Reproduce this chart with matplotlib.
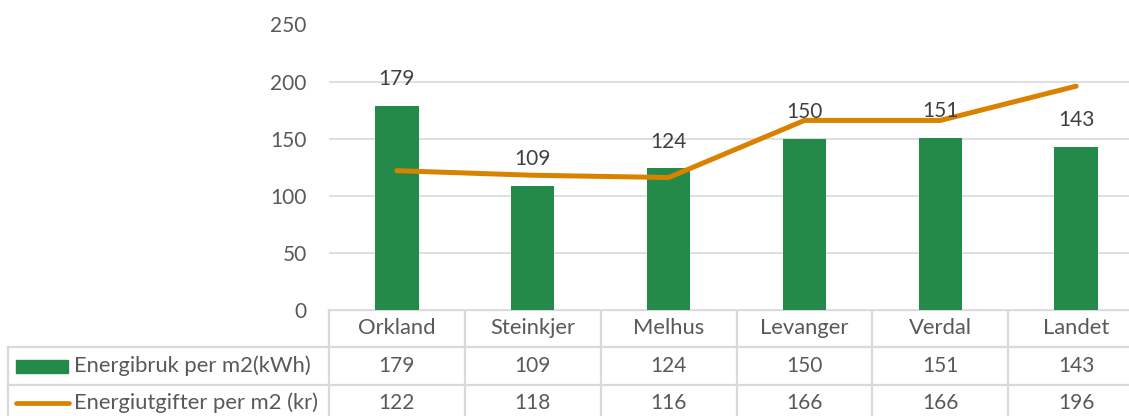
import matplotlib
matplotlib.use("Agg")
import matplotlib.pyplot as plt
from matplotlib.patches import Rectangle
from matplotlib.lines import Line2D

categories = ["Orkland", "Steinkjer", "Melhus", "Levanger", "Verdal", "Landet"]
energibruk = [179, 109, 124, 150, 151, 143]
utgifter = [122, 118, 116, 166, 166, 196]
series_names = ["Energibruk per m2(kWh)", "Energiutgifter per m2 (kr)"]
yticks = [0, 50, 100, 150, 200, 250]

GREEN = "#238A4A"
ORANGE = "#D98200"
TXT = "#595959"
GRID = "#D9D9D9"
FONT = "Lato"
FS = 15
FSW = 15.8

W, H = 1129, 416
fig = plt.figure(figsize=(W / 100, H / 100), dpi=100)

# main plot axes (extends slightly past right edge like reference)
left, right = 329, 1144
y0, y250 = 310, 24.5
ax = fig.add_axes([left / W, (H - y0) / H, (right - left) / W, (y0 - y250) / H])
x = list(range(len(categories)))
ax.bar(x, energibruk, width=0.32, color=GREEN, zorder=3)
ax.plot(x, utgifter, color=ORANGE, lw=3.6, solid_capstyle="round", solid_joinstyle="round", zorder=4)
for xi, v in zip(x, energibruk):
    ax.annotate(str(v), (xi, v), xytext=(0, 12), textcoords="offset points",
                ha="center", va="bottom", fontsize=FS, color="#404040", family=FONT, zorder=5)
ax.set_xlim(-0.5, len(categories) - 0.5)
ax.set_ylim(0, 250)
ax.set_yticks(yticks)
ax.set_yticklabels([str(t) for t in yticks], fontsize=FS, color=TXT, family=FONT)
ax.tick_params(axis="y", length=0, pad=16)
ax.set_xticks([])
for s in ax.spines.values():
    s.set_visible(False)
ax.grid(axis="y", color=GRID, lw=1.2, zorder=0)
ax.set_axisbelow(True)

# table overlay in pixel coordinates
tax = fig.add_axes([0, 0, 1, 1], zorder=-1)
tax.set_xlim(0, W)
tax.set_ylim(0, H)
tax.axis("off")
fig.canvas.draw()

def px(xd):
    disp = ax.transData.transform((xd, 0))
    return disp[0] * W / fig.bbox.width

bounds = [px(i - 0.5) for i in range(len(categories) + 1)]
centers = [px(i) for i in range(len(categories))]
row_top = [310, 347, 385, 422]
lab_left = 8

def Y(v):
    return H - v

lc = dict(color=GRID, lw=1.6, zorder=1)
tax.add_line(Line2D([bounds[0], bounds[-1]], [Y(row_top[0])] * 2, **lc))
tax.add_line(Line2D([lab_left, bounds[-1]], [Y(row_top[1])] * 2, **lc))
tax.add_line(Line2D([lab_left, bounds[-1]], [Y(row_top[2])] * 2, **lc))
for b in bounds:
    tax.add_line(Line2D([b, b], [Y(row_top[0]), Y(row_top[3])], **lc))
tax.add_line(Line2D([lab_left, lab_left], [Y(row_top[1]), Y(row_top[3])], **lc))

row_c = [328, 366, 403]
for c, name in zip(centers, categories):
    tax.text(c, Y(row_c[0]), name, ha="center", va="center", fontsize=FSW, color=TXT, family=FONT)
for c, v in zip(centers, energibruk):
    tax.text(c, Y(row_c[1]), str(v), ha="center", va="center", fontsize=FS, color=TXT, family=FONT)
for c, v in zip(centers, utgifter):
    tax.text(c, Y(row_c[2]), str(v), ha="center", va="center", fontsize=FS, color=TXT, family=FONT)

# legend keys
tax.add_patch(Rectangle((16, Y(row_c[1]) - 6.5), 52, 13, color=GREEN))
tax.add_line(Line2D([16, 69], [Y(row_c[2])] * 2, color=ORANGE, lw=3.4, solid_capstyle="round"))
tax.text(74, Y(row_c[1]), series_names[0], ha="left", va="center", fontsize=FSW, color=TXT, family=FONT)
tax.text(74, Y(row_c[2]), series_names[1], ha="left", va="center", fontsize=FSW, color=TXT, family=FONT)

fig.savefig("out.png", dpi=100)
